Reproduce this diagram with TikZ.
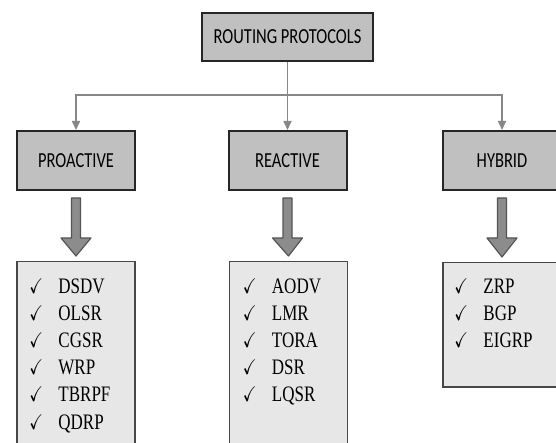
\documentclass[tikz,border=0pt]{standalone}
\usepackage{fontspec}
\usepackage{amssymb}
\usepackage{graphicx}
\setmainfont{Liberation Serif}
\newfontfamily\hdfont{Carlito}
\usetikzlibrary{arrows.meta,calc}
\definecolor{hdfill}{RGB}{192,192,192}
\definecolor{lstfill}{RGB}{231,231,231}
\definecolor{conncol}{RGB}{135,135,135}
\definecolor{arrfill}{RGB}{140,140,140}
\definecolor{arrline}{RGB}{85,85,85}
\newcommand\mkitem[1]{\scalebox{1}[1.3]{\makebox[29pt][l]{\fontsize{16.5}{18}\selectfont\checkmark}#1}}
\newcommand\hdtext[1]{\scalebox{1}[1.3]{#1}}
\tikzset{
  hdr/.style={draw=black!85, line width=2pt, fill=hdfill, inner sep=0pt,
    minimum width=118pt, minimum height=59pt, font=\hdfont\fontsize{16.5}{18}\selectfont},
  lst/.style={draw=black!72, line width=1.5pt, fill=lstfill, inner sep=0pt, minimum width=118pt},
  conn/.style={draw=conncol, line width=1.6pt, -{Triangle[width=8pt,length=9pt]}},
  barrow/.style={draw=arrline, fill=arrfill, line width=1.2pt, line join=round},
  item/.style={anchor=base west, inner sep=0pt, font=\fontsize{17}{20}\selectfont}
}
\begin{document}
\begin{tikzpicture}[x=1pt,y=-1pt]
\clip (0,0) rectangle (556,443);
\fill[white] (0,0) rectangle (556,443);
% header boxes
\node[hdr, minimum width=171pt, minimum height=48pt] (top) at (287.5,37) {\hdtext{ROUTING PROTOCOLS}};
\node[hdr] (pro) at (76,160.5) {\hdtext{PROACTIVE}};
\node[hdr] (rea) at (287.5,160.5) {\hdtext{REACTIVE}};
\node[hdr] (hyb) at (502,160.5) {\hdtext{HYBRID}};
% list boxes
\node[lst, minimum height=190pt, anchor=north] (pl) at (76,261) {};
\node[lst, minimum height=190pt, anchor=north] (rl) at (288.5,261) {};
\node[lst, minimum height=124pt, anchor=north] (hl) at (502,262) {};
% connectors
\coordinate (jn) at (287.5,95);
\draw[conn] (top.south) -- (rea.north);
\draw[conn] (jn) -| (pro.north);
\draw[conn] (jn) -| (hyb.north);
% block arrows
\foreach \h/\l in {pro/pl, rea/rl, hyb/hl}{
  \draw[barrow] ($(\h.south)+(-4.5,7)$) -- ($(\h.south)+(4.5,7)$) -- ($(\h.south)+(4.5,47)$)
    -- ($(\h.south)+(15,47)$) -- ($(\l.north)+(0,-5)$) -- ($(\h.south)+(-15,47)$)
    -- ($(\h.south)+(-4.5,47)$) -- cycle;
}
% list items
\foreach \t [count=\i from 0] in {DSDV,OLSR,CGSR,WRP,TBRPF,QDRP}
  \node[item] (p\i) at ($(pl.north west)+(13,32+27.2*\i)$) {\mkitem{\t}};
\foreach \t [count=\i from 0] in {AODV,LMR,TORA,DSR,LQSR}
  \node[item] (r\i) at ($(rl.north west)+(14,32+27.2*\i)$) {\mkitem{\t}};
\foreach \t [count=\i from 0] in {ZRP,BGP,EIGRP}
  \node[item] (h\i) at ($(hl.north west)+(12,31+27.2*\i)$) {\mkitem{\t}};
\end{tikzpicture}
\end{document}
